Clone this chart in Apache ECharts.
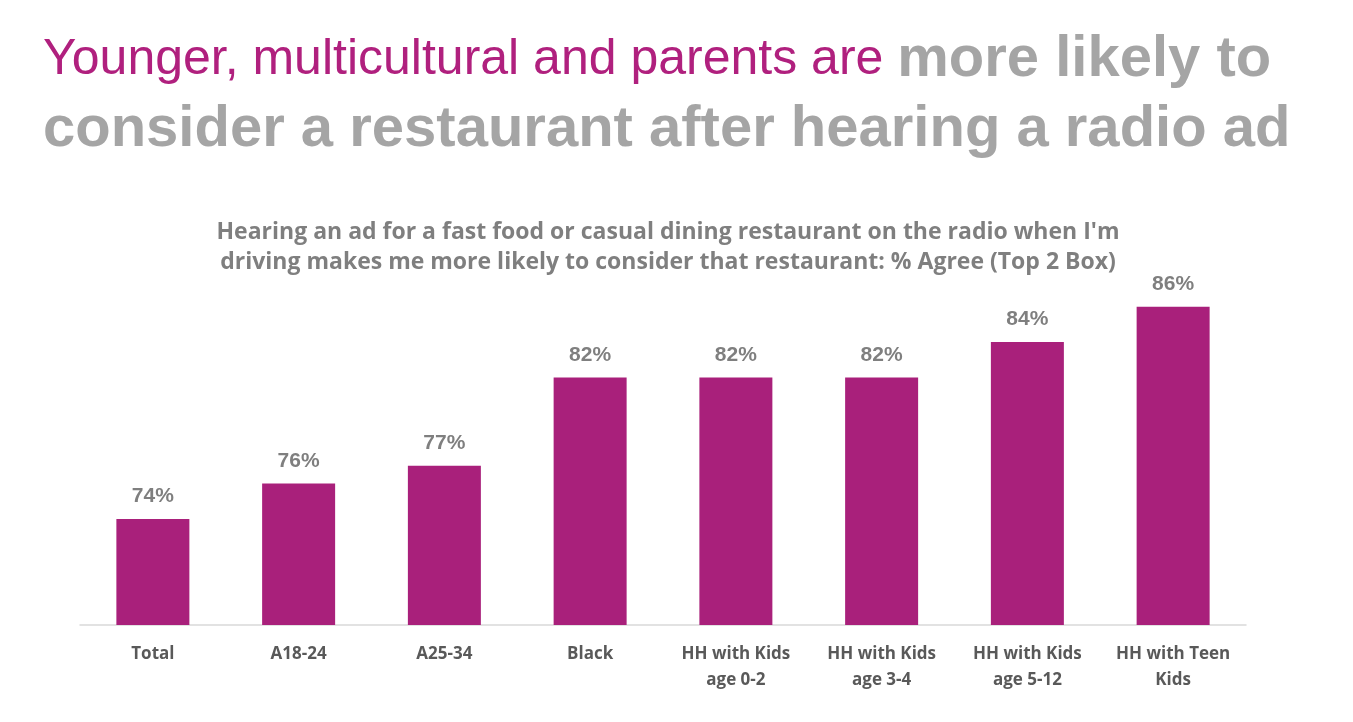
<!DOCTYPE html>
<html><head><meta charset="utf-8">
<script src="https://cdn.jsdelivr.net/npm/echarts@6/dist/echarts.min.js"></script>
<style>html,body{margin:0;padding:0;background:#fff}#c{width:1353px;height:722px}</style>
</head><body><div id="c"></div>
<script>
const categories = ['Total','A18-24','A25-34','Black','HH with Kids\nage 0-2','HH with Kids\nage 3-4','HH with Kids\nage 5-12','HH with Teen\nKids'];
const values = [74,76,77,82,82,82,84,86];
const chart = echarts.init(document.getElementById('c'));
chart.setOption({
  animation:false,
  title:[{
    left:38, top:20,
    text:'{p|Younger, multicultural and parents are }{g|more likely to}\n{g|consider a restaurant after hearing a radio ad}',
    textStyle:{fontWeight:'normal',rich:{
      p:{fontFamily:'Liberation Sans, Arial',fontSize:50,fontWeight:'normal',color:'#B0207E',lineHeight:70,letterSpacing:-1.5},
      g:{fontFamily:'Liberation Sans, Arial',fontSize:58,fontWeight:'bold',color:'#A5A5A5',lineHeight:70}
    }}
  },{
    left:663, top:212, textAlign:'center',
    text:"Hearing an ad for a fast food or casual dining restaurant on the radio when I'm\ndriving makes me more likely to consider that restaurant: % Agree (Top 2 Box)",
    textStyle:{fontFamily:'Open Sans, Liberation Sans',fontSize:23,fontWeight:'bold',color:'#7F7F7F',lineHeight:30}
  }],
  grid:{left:80,right:107,top:289,bottom:97},
  xAxis:{type:'category',data:categories,
    axisLine:{lineStyle:{color:'#D9D9D9',width:1.5}},axisTick:{show:false},
    axisLabel:{interval:0,color:'#595959',fontSize:17,fontWeight:'bold',fontFamily:'Open Sans, Liberation Sans',lineHeight:26,margin:16}},
  yAxis:{type:'value',min:68,max:87,show:false,splitLine:{show:false}},
  series:[{type:'bar',data:values,barWidth:73,itemStyle:{color:'#A9207B'},
    label:{show:true,position:'top',distance:12,formatter:'{c}%',color:'#7F7F7F',fontSize:21,fontWeight:'bold',fontFamily:'Liberation Sans, Arial'}}]
});
</script></body></html>
